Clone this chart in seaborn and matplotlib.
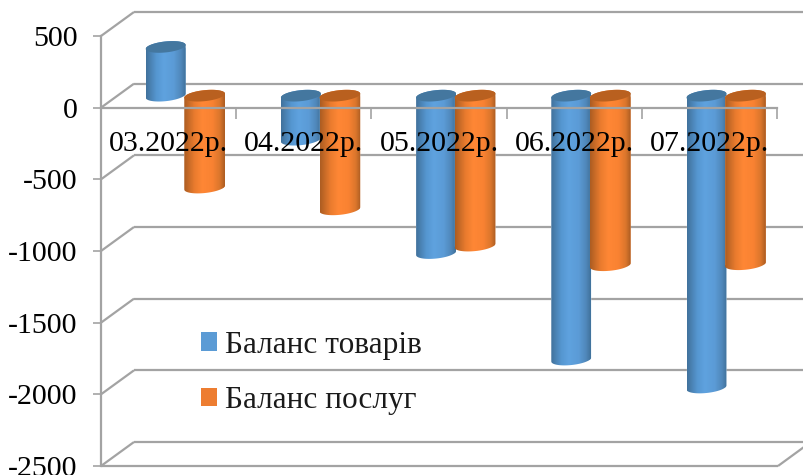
import numpy as np
import pandas as pd
import matplotlib.pyplot as plt
from matplotlib.colors import LinearSegmentedColormap
from matplotlib.patches import Patch, Polygon
from matplotlib.transforms import Affine2D
import seaborn as sns

periods = ["03.2022р.", "04.2022р.", "05.2022р.", "06.2022р.", "07.2022р."]
goods = [340, -307, -1098, -1841, -2036]
services = [-641, -793, -1046, -1183, -1176]
series_names = ["Баланс товарів", "Баланс послуг"]
y_ticks = [500, 0, -500, -1000, -1500, -2000, -2500]
y_labels = ["500", "0", "-500", "-1000", "-1500", "-2000", "-2500"]

sns.set_theme(style="white")
plt.rcParams["font.family"] = ["Liberation Serif"]

W, H = 804, 475
GREY = "#a3a3a3"
LEFT, RIGHT, TOP, BOTTOM = 101, 777, 36, 466

df = pd.DataFrame({
    "period": periods * 2,
    "value": goods + services,
    "series": [series_names[0]] * 5 + [series_names[1]] * 5,
})

fig = plt.figure(figsize=(W / 100, H / 100), dpi=100)
ax = fig.add_axes([LEFT / W, 1 - BOTTOM / H, (RIGHT - LEFT) / W, (BOTTOM - TOP) / H])

palette = {series_names[0]: "#5b9bd5", series_names[1]: "#ed7d31"}
sns.barplot(data=df, x="period", y="value", hue="series", palette=palette,
            order=periods, hue_order=series_names, width=0.59, saturation=1,
            legend=False, ax=ax, zorder=2)
ax.set_xlim(-0.5, 4.5)
ax.set_ylim(-2500, 500)
ax.set_xlabel("")
ax.set_ylabel("")

# pixels per data unit
px_x = (RIGHT - LEFT) / 5
px_y = (BOTTOM - TOP) / 3000

# back wall and floor of the fake 3d box
depth_x, depth_y = 33 / px_x, 24 / px_y
x_left = -0.5
x_end = x_left + (W - LEFT) / px_x
line = dict(color=GREY, lw=1.6, clip_on=False, zorder=1, solid_capstyle="butt")
for y in y_ticks:
    ax.plot([x_left, x_left + depth_x], [y, y + depth_y], **line)
    ax.plot([x_left + depth_x, x_end], [y + depth_y, y + depth_y], **line)
ax.plot([x_left, 4.5 + 1 / px_x], [-2500, -2500], **line)
ax.plot([4.5 + 1 / px_x, x_end], [-2500, -2500 + 19 / px_y], **line)

# cylinders, sitting in the middle of the depth
shift = Affine2D().translate(17, 12)
trans = ax.transData + shift
cmaps = [
    LinearSegmentedColormap.from_list("b", [(0, "#41729c"), (0.25, "#5596d0"), (0.45, "#5fa2df"), (0.7, "#5b9bd6"), (0.88, "#5088bb"), (1, "#41729c")]),
    LinearSegmentedColormap.from_list("o", [(0, "#ad5d22"), (0.25, "#e97b2e"), (0.45, "#ff8735"), (0.7, "#f98232"), (0.88, "#db762c"), (1, "#ad5d22")]),
]
cap_colors = ["#44779f", "#b9601f"]
rx_h, tilt = 5.5 / px_y, 2 / px_y
t = np.linspace(0, np.pi, 40)
gradient = np.linspace(0, 1, 64).reshape(1, -1)

for i, bar in enumerate(ax.patches):
    s = i // 5
    # orange overlaps the blue one a little
    if s == 1:
        bar.set_x(bar.get_x() - 1.3 / px_x)
        bar.set_width(bar.get_width() + 0.8 / px_x)
    x0, x1 = bar.get_x(), bar.get_x() + bar.get_width()
    lo, hi = sorted([bar.get_y(), bar.get_y() + bar.get_height()])
    xc, rx = (x0 + x1) / 2, (x1 - x0) / 2
    top_x = xc + rx * np.cos(t)
    top_y = hi + rx_h * np.sin(t) + tilt * np.cos(t)
    low_x = xc - rx * np.cos(t)
    low_y = lo - rx_h * np.sin(t) - tilt * np.cos(t)
    body = Polygon(np.column_stack([np.r_[top_x, low_x], np.r_[top_y, low_y]]),
                   transform=trans, fc="none", ec="none")
    ax.add_patch(body)
    bar.set_transform(trans)
    bar.set_clip_path(body)
    z = 2 + i * 0.001 + s * 0.1
    bar.set_zorder(z)
    im = ax.imshow(gradient, extent=[x0, x1, lo - 2 * rx_h, hi + 2 * rx_h], cmap=cmaps[s],
                   aspect="auto", zorder=z + 0.0001, transform=trans)
    im.set_clip_path(body)
    cap_y = np.r_[top_y, hi - rx_h * np.sin(t) - tilt * np.cos(t)]
    cap_x = np.r_[top_x, xc - rx * np.cos(t)]
    ax.add_patch(Polygon(np.column_stack([cap_x, cap_y]), transform=trans,
                         fc=cap_colors[s], ec="none", zorder=z + 0.0002))

ax.set_xlim(-0.5, 4.5)
ax.set_ylim(-2500, 500)

# axes on top of the cylinders: zero line, ticks, labels
ax.set_axisbelow(False)
sns.despine(ax=ax, top=True, right=True)
ax.spines["bottom"].set_position(("data", 0))
for side in ["left", "bottom"]:
    ax.spines[side].set_color(GREY)
    ax.spines[side].set_linewidth(1.6)
    ax.spines[side].set_zorder(2.4)
ax.set_yticks(y_ticks, y_labels)
ax.set_xticks(range(5), periods)
ax.set_xticks(np.arange(-0.5, 5), minor=True)
ax.tick_params(axis="y", left=True, length=5.8, width=1.2, color=GREY, pad=11, labelsize=21.5, labelcolor="black")
ax.tick_params(axis="x", which="major", bottom=False, length=0, pad=17, labelsize=21.5, labelcolor="black")
ax.tick_params(axis="x", which="minor", bottom=True, length=8, width=1.2, color=GREY)

handles = [Patch(fc=palette[n], ec="none", label=n) for n in series_names]
ax.legend(handles=handles, loc="upper left", bbox_to_anchor=(201 / W, 1 - 330.5 / H),
          bbox_transform=fig.transFigure, frameon=False, fontsize=22.5, labelcolor="#1a1a1a",
          handlelength=0.52, handleheight=0.52, handletextpad=0.26, labelspacing=0.85,
          borderpad=0, borderaxespad=0)

fig.savefig("out.png", dpi=100)
